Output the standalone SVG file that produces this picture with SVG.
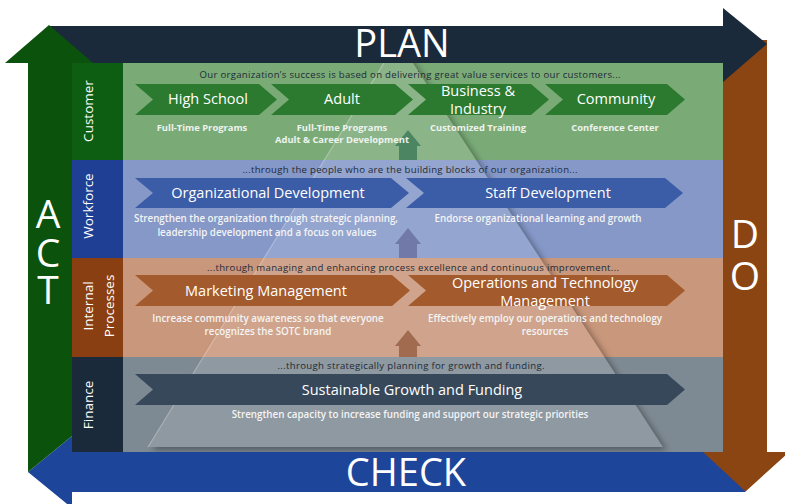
<svg xmlns="http://www.w3.org/2000/svg" width="785" height="504" viewBox="0 0 785 504">
<style>
text{font-family:"Open Sans","Noto Sans","DejaVu Sans",sans-serif}
.big{fill:#fff;font-size:38px}
.lett{fill:#fff;font-size:39px;text-anchor:middle}
.side{fill:#fff;font-size:13.5px;text-anchor:middle}
.hdr{fill:#1f2a36;font-size:9.6px;text-anchor:middle}
.lab{fill:#fff;font-size:14.5px;text-anchor:middle}
.sub{fill:#eef3ee;font-size:9.4px;font-weight:700;text-anchor:middle}
.desc{fill:#f4f4f4;font-size:9.8px;font-weight:600;text-anchor:middle}
.chG{fill:#2c7a30}
.chB{fill:#3b5ca6}
.chO{fill:#a35a2c}
.chN{fill:#37485a}
</style>
<defs>
<clipPath id="panelClip"><rect x="123" y="63" width="600" height="389"/></clipPath>
<filter id="tshadow" x="-20%" y="-20%" width="140%" height="140%">
<feGaussianBlur in="SourceAlpha" stdDeviation="3" result="b"/>
<feOffset in="b" dx="4" dy="3" result="o"/>
<feComposite in="o" in2="SourceAlpha" operator="out" result="c"/>
<feFlood flood-color="#000" flood-opacity="0.35"/>
<feComposite in2="c" operator="in"/>
</filter>
</defs>

<!-- cycle arrows -->
<g id="do-arrow">
<polygon points="723,40 767,40 767,453 788,453 745,492 703,453 723,453" fill="#8b4513"/>
<text class="lett" x="745" y="248">D<tspan x="745" dy="42">O</tspan></text>
</g>
<g id="check-arrow">
<polygon points="28,472 72,436 72,452 745,452 745,492 72,492 72,508" fill="#1d459a"/>
<text class="big" x="406" y="486" text-anchor="middle" font-size="40">CHECK</text>
</g>
<g id="do-head">
<polygon points="703,452 788,452 745,491" fill="#8b4513"/>
</g>
<g id="plan-arrow">
<polygon points="49,26 723,26 723,8 767,44 723,82 723,63 49,63" fill="#1a2a3b"/>
<text class="big" x="402" y="57" text-anchor="middle" font-size="36">PLAN</text>
</g>
<g id="act-arrow">
<polygon points="49,25 93,63 72,63 72,436 28,472 28,63 5,63" fill="#0b520d"/>
<text class="lett" x="48" y="228">A<tspan x="48" dy="39">C</tspan><tspan x="48" dy="37">T</tspan></text>
</g>

<!-- row backgrounds -->
<g id="rows">
<rect x="72" y="63" width="51" height="97" fill="#0d5e12"/>
<rect x="123" y="63" width="600" height="97" fill="#7aab77"/>
<rect x="72" y="160" width="51" height="98" fill="#1f3f94"/>
<rect x="123" y="160" width="600" height="98" fill="#8598c8"/>
<rect x="72" y="258" width="51" height="99" fill="#8a3f12"/>
<rect x="123" y="258" width="600" height="99" fill="#c9977b"/>
<rect x="72" y="357" width="51" height="95" fill="#1b2a3b"/>
<rect x="123" y="357" width="600" height="95" fill="#7e8a93"/>
</g>

<!-- pyramid overlay -->
<g id="pyramid" clip-path="url(#panelClip)">
<polygon points="398,40 148,447 663,447" fill="#000" filter="url(#tshadow)"/>
<polygon points="398,40 148,447 663,447" fill="#fff" fill-opacity="0.13"/>
<line x1="398" y1="40" x2="148" y2="447" stroke="#fff" stroke-opacity="0.3" stroke-width="1.2"/>
</g>

<!-- up arrows -->
<g id="up-arrows">
<polygon points="408,130 421,146 417,146 417,160 399,160 399,146 395,146" fill="#3f7d5a" fill-opacity="0.85"/>
<polygon points="408,228 421,244 417,244 417,258 399,258 399,244 395,244" fill="#6d74a3" fill-opacity="0.9"/>
<polygon points="408,330 421,346 417,346 417,357 399,357 399,346 395,346" fill="#9a6547" fill-opacity="0.9"/>
</g>

<!-- side labels -->
<g id="side-labels">
<text class="side" transform="translate(93,111) rotate(-90)">Customer</text>
<text class="side" transform="translate(93,206) rotate(-90)">Workforce</text>
<text class="side" transform="translate(93,306) rotate(-90)">Internal</text>
<text class="side" transform="translate(114,306) rotate(-90)">Processes</text>
<text class="side" transform="translate(93,405) rotate(-90)">Finance</text>
</g>

<!-- Customer row -->
<g id="customer">
<text class="hdr" x="410" y="78" textLength="421" lengthAdjust="spacing">Our organization’s success is based on delivering great value services to our customers...</text>
<g id="high-school">
<polygon class="chG" points="135,84 259,84 277,99.5 259,115 135,115 153,99.5"/>
<text class="lab" x="208" y="104">High School</text>
<text class="sub" x="202" y="131">Full-Time Programs</text>
</g>
<g id="adult">
<polygon class="chG" points="271,84 395,84 413,99.5 395,115 271,115 289,99.5"/>
<text class="lab" x="342" y="104">Adult</text>
<text class="sub" x="342" y="131">Full-Time Programs</text>
<text class="sub" x="342" y="143">Adult &amp; Career Development</text>
</g>
<g id="business">
<polygon class="chG" points="408,84 531,84 549,99.5 531,115 408,115 426,99.5"/>
<text class="lab" x="478" y="96">Business &amp;</text>
<text class="lab" x="478" y="114">Industry</text>
<text class="sub" x="478" y="131">Customized Training</text>
</g>
<g id="community">
<polygon class="chG" points="545,84 667,84 685,99.5 667,115 545,115 563,99.5"/>
<text class="lab" x="616" y="104">Community</text>
<text class="sub" x="615" y="131">Conference Center</text>
</g>
</g>

<!-- Workforce row -->
<g id="workforce">
<text class="hdr" x="410" y="173" textLength="335" lengthAdjust="spacing">...through the people who are the building blocks of our organization...</text>
<g id="org-dev">
<polygon class="chB" points="135,178 391,178 409,193 391,208 135,208 153,193"/>
<text class="lab" x="268" y="198">Organizational Development</text>
<text class="desc" x="266" y="222">Strengthen the organization through strategic planning,</text>
<text class="desc" x="267" y="236">leadership development and a focus on values</text>
</g>
<g id="staff-dev">
<polygon class="chB" points="406,178 665,178 683,193 665,208 406,208 424,193"/>
<text class="lab" x="548" y="198">Staff Development</text>
<text class="desc" x="538" y="222">Endorse organizational learning and growth</text>
</g>
</g>

<!-- Internal processes row -->
<g id="internal">
<text class="hdr" x="413" y="271" textLength="412" lengthAdjust="spacing">...through managing and enhancing process excellence and continuous improvement...</text>
<g id="marketing">
<polygon class="chO" points="135,275 392,275 410,290.5 392,306 135,306 153,290.5"/>
<text class="lab" x="266" y="296">Marketing Management</text>
<text class="desc" x="268" y="322">Increase community awareness so that everyone</text>
<text class="desc" x="268" y="335">recognizes the SOTC brand</text>
</g>
<g id="operations">
<polygon class="chO" points="408,275 667,275 685,290.5 667,306 408,306 426,290.5"/>
<text class="lab" x="545" y="288">Operations and Technology</text>
<text class="lab" x="545" y="306">Management</text>
<text class="desc" x="545" y="322">Effectively employ our operations and technology</text>
<text class="desc" x="545" y="335">resources</text>
</g>
</g>

<!-- Finance row -->
<g id="finance">
<text class="hdr" x="411" y="369" textLength="267" lengthAdjust="spacing">...through strategically planning for growth and funding.</text>
<g id="sustainable">
<polygon class="chN" points="135,374 667,374 685,389.5 667,405 135,405 153,389.5"/>
<text class="lab" x="412" y="395">Sustainable Growth and Funding</text>
<text class="desc" x="410" y="418">Strengthen capacity to increase funding and support our strategic priorities</text>
</g>
</g>
</svg>
